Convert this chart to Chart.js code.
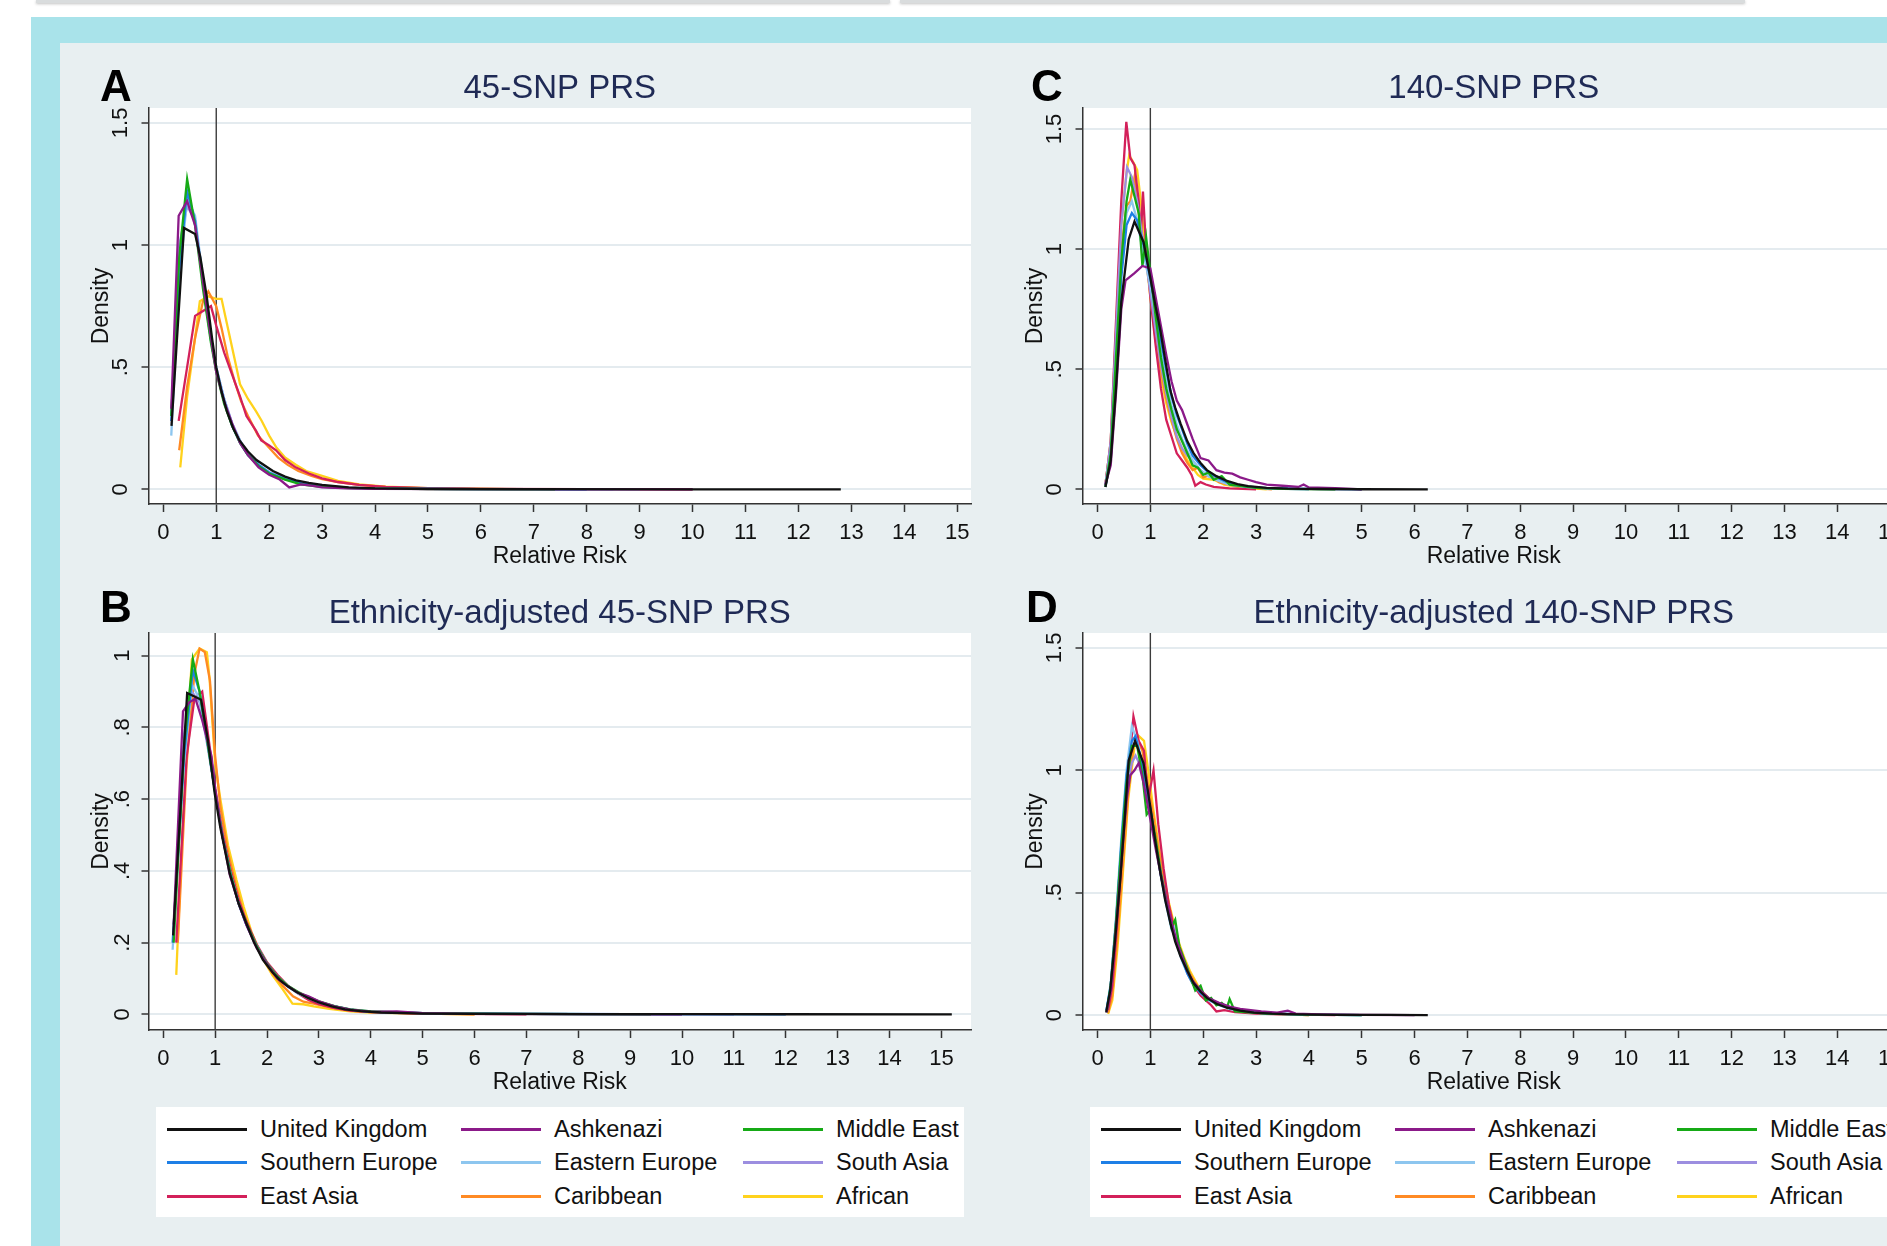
<!DOCTYPE html>
<html lang="en">
<head>
<meta charset="UTF-8">
<title>Relative risk density by ethnicity</title>
<script src="https://cdn.jsdelivr.net/npm/chart.js"></script>
<style>
  html, body { margin: 0; padding: 0; }
  body { width: 1887px; height: 1246px; overflow: hidden; position: relative; background: #fff;
         font-family: "Liberation Sans", Arial, sans-serif; }
  .tab { position: absolute; top: 0; height: 3px; background: #d9dcdd; box-shadow: 0 1px 3px rgba(0,0,0,0.25); }
  #frame { position: absolute; left: 31px; top: 17px; right: 0; bottom: 0; background: #a9e3ea; }
  #sheet { position: absolute; left: 60px; top: 43px; right: 0; bottom: 0; background: #e8eff1; }
  canvas { position: absolute; }
  .legend { position: absolute; width: 808px; height: 110px; background: #fff; }
  .legend .item { position: absolute; height: 30px; display: flex; align-items: center;
                  font-size: 23.5px; color: #111; white-space: nowrap; }
  .legend .swatch { width: 80px; height: 3px; margin-right: 13px; }
</style>
</head>
<body>
<div class="tab" style="left:36px; width:854px;"></div>
<div class="tab" style="left:900px; width:845px;"></div>
<div id="frame"></div>
<div id="sheet"></div>

<canvas id="cA" width="934" height="537" style="left:60px; top:43px;"></canvas>
<canvas id="cB" width="934" height="526" style="left:60px; top:580px;"></canvas>
<canvas id="cC" width="934" height="537" style="left:994px; top:43px;"></canvas>
<canvas id="cD" width="934" height="526" style="left:994px; top:580px;"></canvas>

<div class="legend" id="legL" style="left:156px; top:1107px;"></div>
<div class="legend" id="legR" style="left:1090px; top:1107px;"></div>

<script>
// ethnic groups, in legend order
const seriesNames = ['United Kingdom', 'Ashkenazi', 'Middle East',
                     'Southern Europe', 'Eastern Europe', 'South Asia',
                     'East Asia', 'Caribbean', 'African'];
const seriesColors = ['#111111', '#8b1a89', '#16aa16',
                      '#1e7fe6', '#8dc6ef', '#9c8ee0',
                      '#d3205a', '#ff8a24', '#ffd21c'];

const xTicks = [0, 1, 2, 3, 4, 5, 6, 7, 8, 9, 10, 11, 12, 13, 14, 15];
const yTicksHalf = [0, 0.5, 1, 1.5];
const yTicksFifth = [0, 0.2, 0.4, 0.6, 0.8, 1];

// density of relative risk, [RR, density] per group (same order as seriesNames)
const densA = [
  [[0.155,0.26],[0.39,1.07],[0.6,1.045],[0.7,0.95],[0.82,0.79],[0.92,0.62],[1.0,0.50],[1.1,0.40],[1.2,0.32],[1.32,0.25],[1.44,0.2],[1.6,0.155],[1.76,0.12],[2.07,0.075],[2.3,0.052],[2.51,0.037],[2.75,0.026],[3.0,0.018],[3.5,0.008],[4.0,0.004],[5,0.0015],[7,0.0005],[10,0.0002],[12.8,0]],
  [[0.15,0.33],[0.29,1.12],[0.45,1.18],[0.6,1.08],[0.75,0.85],[0.9,0.62],[1.0,0.48],[1.15,0.36],[1.3,0.27],[1.45,0.19],[1.6,0.14],[1.8,0.09],[2.0,0.06],[2.2,0.04],[2.38,0.008],[2.6,0.02],[2.8,0.015],[3.0,0.008],[3.5,0.004],[4,0.002],[6,0.0008],[10,0]],
  [[0.15,0.3],[0.3,0.95],[0.45,1.27],[0.6,1.08],[0.75,0.82],[0.9,0.6],[1.0,0.48],[1.15,0.35],[1.3,0.26],[1.45,0.19],[1.6,0.14],[1.8,0.095],[2.0,0.065],[2.3,0.04],[2.6,0.02],[2.9,0.012],[3.3,0.006],[4,0.003],[5.5,0.001],[7.4,0]],
  [[0.15,0.28],[0.3,0.9],[0.45,1.22],[0.6,1.1],[0.75,0.84],[0.9,0.61],[1.0,0.49],[1.15,0.36],[1.3,0.26],[1.45,0.19],[1.6,0.14],[1.8,0.1],[2.0,0.068],[2.3,0.042],[2.6,0.025],[3.0,0.012],[3.5,0.006],[4,0.003],[6,0.0008],[8,0]],
  [[0.15,0.22],[0.3,0.85],[0.45,1.19],[0.6,1.12],[0.75,0.86],[0.9,0.62],[1.0,0.5],[1.15,0.37],[1.3,0.27],[1.45,0.2],[1.6,0.145],[1.8,0.1],[2.0,0.07],[2.3,0.043],[2.6,0.026],[3.0,0.013],[3.5,0.006],[4,0.003],[6,0.0008],[9,0]],
  [[0.15,0.3],[0.3,1.0],[0.45,1.16],[0.6,1.1],[0.75,0.86],[0.9,0.62],[1.0,0.5],[1.15,0.37],[1.3,0.27],[1.45,0.2],[1.6,0.145],[1.8,0.1],[2.0,0.07],[2.3,0.044],[2.6,0.027],[3.0,0.014],[3.5,0.007],[4,0.003],[6,0.0008],[8.5,0]],
  [[0.29,0.28],[0.45,0.5],[0.6,0.71],[0.75,0.73],[0.9,0.75],[1.0,0.67],[1.15,0.56],[1.3,0.47],[1.45,0.38],[1.57,0.30],[1.75,0.24],[1.85,0.2],[2.0,0.18],[2.13,0.16],[2.3,0.12],[2.5,0.09],[2.75,0.065],[3.0,0.045],[3.3,0.03],[3.7,0.018],[4.2,0.01],[5,0.005],[6,0.002],[8,0.001],[10,0]],
  [[0.3,0.16],[0.45,0.42],[0.6,0.62],[0.75,0.77],[0.85,0.81],[1.0,0.75],[1.1,0.66],[1.22,0.54],[1.35,0.44],[1.47,0.36],[1.6,0.3],[1.79,0.22],[2.0,0.17],[2.17,0.13],[2.35,0.1],[2.55,0.075],[2.8,0.055],[3.0,0.042],[3.3,0.03],[3.7,0.018],[4.2,0.01],[5,0.004],[6,0.002],[7.5,0]],
  [[0.32,0.09],[0.45,0.38],[0.6,0.62],[0.69,0.77],[0.85,0.79],[1.0,0.78],[1.1,0.78],[1.2,0.68],[1.35,0.53],[1.45,0.43],[1.6,0.37],[1.75,0.32],[1.86,0.28],[2.0,0.22],[2.14,0.17],[2.3,0.13],[2.51,0.1],[2.7,0.075],[3.0,0.055],[3.3,0.035],[3.7,0.02],[4.2,0.011],[5,0.005],[6,0.002],[7,0]]
];

const densB = [
  [[0.19,0.22],[0.46,0.896],[0.73,0.877],[0.86,0.765],[0.99,0.617],[1.1,0.52],[1.28,0.393],[1.45,0.31],[1.6,0.254],[1.75,0.2],[1.92,0.152],[2.1,0.118],[2.24,0.096],[2.4,0.078],[2.56,0.063],[2.8,0.045],[3.0,0.033],[3.25,0.022],[3.5,0.014],[3.8,0.009],[4.2,0.005],[5,0.002],[6,0.001],[8,0.0004],[10,0.0002],[12,0.0001],[15.2,0]],
  [[0.2,0.25],[0.38,0.845],[0.5,0.87],[0.62,0.88],[0.75,0.82],[0.93,0.72],[1.0,0.63],[1.1,0.53],[1.28,0.39],[1.45,0.31],[1.6,0.25],[1.8,0.185],[2.0,0.14],[2.2,0.1],[2.4,0.078],[2.6,0.06],[2.8,0.05],[3.0,0.036],[3.3,0.022],[3.6,0.013],[4.0,0.007],[4.5,0.008],[5,0.003],[6,0.001],[8,0.0003],[10,0]],
  [[0.2,0.2],[0.4,0.75],[0.57,0.99],[0.7,0.9],[0.85,0.76],[1.0,0.62],[1.15,0.49],[1.3,0.39],[1.45,0.31],[1.6,0.255],[1.8,0.19],[2.0,0.142],[2.2,0.105],[2.4,0.08],[2.6,0.062],[2.8,0.048],[3.0,0.036],[3.3,0.023],[3.6,0.014],[4.0,0.008],[5,0.003],[6,0.0015],[7,0.001],[9.4,0]],
  [[0.18,0.2],[0.4,0.72],[0.57,0.96],[0.7,0.9],[0.85,0.76],[1.0,0.62],[1.15,0.49],[1.3,0.39],[1.45,0.31],[1.6,0.25],[1.8,0.19],[2.0,0.14],[2.2,0.104],[2.4,0.078],[2.6,0.06],[2.8,0.046],[3.0,0.034],[3.3,0.022],[3.6,0.013],[4,0.007],[5,0.003],[7,0.001],[9,0.0005],[12,0]],
  [[0.18,0.18],[0.4,0.7],[0.55,0.92],[0.7,0.88],[0.85,0.76],[1.0,0.62],[1.15,0.49],[1.3,0.39],[1.45,0.31],[1.6,0.25],[1.8,0.19],[2.0,0.14],[2.2,0.103],[2.4,0.077],[2.6,0.058],[2.8,0.045],[3.0,0.034],[3.3,0.022],[3.6,0.013],[4,0.007],[5,0.003],[7,0.001],[10,0]],
  [[0.2,0.22],[0.4,0.78],[0.55,0.9],[0.7,0.87],[0.85,0.75],[1.0,0.62],[1.15,0.49],[1.3,0.39],[1.45,0.31],[1.6,0.25],[1.8,0.19],[2.0,0.142],[2.2,0.105],[2.4,0.08],[2.6,0.06],[2.8,0.046],[3.0,0.035],[3.3,0.022],[3.6,0.014],[4,0.008],[5,0.003],[7,0.001],[11,0]],
  [[0.25,0.2],[0.45,0.72],[0.6,0.88],[0.75,0.9],[0.9,0.74],[1.0,0.63],[1.15,0.5],[1.3,0.4],[1.45,0.32],[1.6,0.26],[1.8,0.195],[2.0,0.145],[2.2,0.11],[2.4,0.08],[2.6,0.058],[2.8,0.04],[3.0,0.028],[3.3,0.017],[3.6,0.01],[4,0.006],[5,0.002],[7,0]],
  [[0.28,0.2],[0.45,0.7],[0.6,0.95],[0.7,1.02],[0.8,1.01],[0.9,0.93],[1.0,0.72],[1.1,0.58],[1.25,0.45],[1.4,0.36],[1.55,0.28],[1.7,0.22],[1.9,0.16],[2.1,0.115],[2.3,0.08],[2.5,0.05],[2.7,0.035],[2.9,0.03],[3.2,0.02],[3.6,0.01],[4,0.006],[5,0.002],[6,0]],
  [[0.25,0.11],[0.4,0.62],[0.55,0.99],[0.7,1.02],[0.84,1.01],[0.89,0.94],[1.0,0.7],[1.1,0.6],[1.25,0.47],[1.41,0.375],[1.55,0.3],[1.7,0.23],[1.9,0.16],[2.1,0.11],[2.3,0.07],[2.49,0.03],[2.7,0.028],[2.9,0.022],[3.2,0.015],[3.6,0.008],[4,0.005],[5,0.002],[6,0]]
];

const densC = [
  [[0.15,0.01],[0.25,0.12],[0.35,0.42],[0.45,0.78],[0.59,1.04],[0.7,1.115],[0.87,1.03],[1.0,0.88],[1.1,0.76],[1.19,0.66],[1.28,0.54],[1.38,0.41],[1.47,0.34],[1.57,0.275],[1.7,0.2],[1.82,0.15],[1.95,0.11],[2.07,0.08],[2.25,0.055],[2.45,0.035],[2.65,0.022],[2.85,0.013],[3.2,0.006],[3.6,0.003],[4.2,0.0015],[5,0.0005],[6.25,0]],
  [[0.15,0.02],[0.25,0.1],[0.35,0.4],[0.45,0.75],[0.53,0.87],[0.7,0.9],[0.85,0.93],[1.0,0.92],[1.1,0.8],[1.2,0.68],[1.3,0.56],[1.4,0.45],[1.5,0.37],[1.6,0.33],[1.7,0.27],[1.8,0.21],[1.95,0.13],[2.1,0.12],[2.25,0.08],[2.4,0.07],[2.55,0.065],[2.7,0.05],[2.85,0.04],[3.0,0.03],[3.2,0.02],[3.5,0.015],[3.8,0.01],[3.9,0.02],[4.0,0.008],[4.5,0.005],[5.0,0]],
  [[0.15,0.01],[0.25,0.15],[0.35,0.55],[0.45,0.95],[0.55,1.2],[0.62,1.29],[0.7,1.22],[0.78,1.15],[0.85,0.93],[0.92,1.05],[1.0,0.9],[1.1,0.72],[1.2,0.55],[1.3,0.42],[1.4,0.33],[1.5,0.25],[1.6,0.2],[1.7,0.15],[1.8,0.1],[1.9,0.09],[2.0,0.06],[2.1,0.07],[2.2,0.04],[2.35,0.055],[2.5,0.02],[2.7,0.015],[3.0,0.006],[3.5,0.002],[4.5,0]],
  [[0.15,0.01],[0.25,0.13],[0.35,0.5],[0.45,0.88],[0.55,1.1],[0.65,1.15],[0.75,1.12],[0.87,1.02],[1.0,0.88],[1.1,0.75],[1.2,0.62],[1.3,0.5],[1.4,0.39],[1.5,0.31],[1.6,0.25],[1.7,0.19],[1.8,0.14],[1.95,0.1],[2.1,0.07],[2.3,0.045],[2.5,0.025],[2.8,0.012],[3.2,0.005],[4,0.002],[5,0]],
  [[0.15,0.02],[0.25,0.15],[0.35,0.55],[0.45,0.95],[0.55,1.15],[0.65,1.2],[0.75,1.12],[0.85,1.0],[1.0,0.85],[1.1,0.72],[1.2,0.58],[1.3,0.45],[1.4,0.35],[1.5,0.27],[1.6,0.21],[1.7,0.16],[1.8,0.12],[1.95,0.08],[2.1,0.055],[2.3,0.035],[2.5,0.02],[2.8,0.01],[3.2,0.004],[4,0]],
  [[0.15,0.02],[0.25,0.2],[0.35,0.65],[0.45,1.1],[0.56,1.34],[0.65,1.3],[0.75,1.2],[0.85,1.05],[1.0,0.82],[1.1,0.66],[1.2,0.52],[1.3,0.4],[1.4,0.3],[1.5,0.22],[1.6,0.17],[1.7,0.14],[1.8,0.12],[1.95,0.08],[2.1,0.055],[2.3,0.035],[2.5,0.02],[2.8,0.01],[3.2,0.004],[4,0]],
  [[0.15,0.02],[0.25,0.2],[0.35,0.7],[0.45,1.2],[0.545,1.53],[0.62,1.38],[0.7,1.35],[0.78,1.2],[0.82,1.05],[0.86,1.24],[0.92,1.0],[1.0,0.8],[1.1,0.6],[1.2,0.42],[1.3,0.29],[1.4,0.22],[1.5,0.15],[1.6,0.12],[1.7,0.09],[1.78,0.06],[1.85,0.015],[1.95,0.03],[2.05,0.02],[2.2,0.01],[2.5,0.004],[3,0]],
  [[0.15,0.02],[0.25,0.18],[0.35,0.6],[0.45,1.0],[0.55,1.18],[0.62,1.2],[0.7,1.3],[0.78,1.15],[0.85,1.05],[0.92,0.98],[1.0,0.85],[1.1,0.68],[1.2,0.5],[1.3,0.38],[1.4,0.29],[1.5,0.21],[1.6,0.15],[1.7,0.11],[1.8,0.08],[1.9,0.09],[2.0,0.05],[2.15,0.06],[2.3,0.03],[2.5,0.02],[2.8,0.008],[3.3,0]],
  [[0.15,0.02],[0.25,0.2],[0.35,0.65],[0.45,1.1],[0.55,1.32],[0.6,1.39],[0.68,1.36],[0.75,1.33],[0.82,1.2],[0.9,1.0],[1.0,0.8],[1.1,0.62],[1.2,0.47],[1.3,0.36],[1.4,0.28],[1.5,0.22],[1.6,0.17],[1.7,0.12],[1.8,0.09],[1.9,0.06],[2.0,0.045],[2.2,0.04],[2.4,0.02],[2.7,0.008],[3.2,0]]
];

const densD = [
  [[0.165,0.013],[0.24,0.1],[0.33,0.3],[0.43,0.55],[0.52,0.82],[0.59,1.04],[0.71,1.12],[0.87,1.03],[1.0,0.85],[1.1,0.7],[1.19,0.58],[1.28,0.47],[1.38,0.375],[1.47,0.3],[1.57,0.24],[1.7,0.18],[1.82,0.13],[1.95,0.095],[2.07,0.07],[2.25,0.046],[2.45,0.03],[2.7,0.018],[2.96,0.01],[3.3,0.006],[3.8,0.003],[4.5,0.0012],[5.5,0.0004],[6.25,0]],
  [[0.17,0.01],[0.25,0.1],[0.35,0.35],[0.45,0.62],[0.55,0.88],[0.62,0.98],[0.7,1.0],[0.78,1.03],[0.87,0.95],[1.0,0.8],[1.1,0.68],[1.2,0.57],[1.3,0.47],[1.4,0.38],[1.5,0.3],[1.6,0.24],[1.7,0.18],[1.8,0.14],[1.95,0.1],[2.1,0.07],[2.3,0.05],[2.5,0.035],[2.7,0.025],[2.9,0.02],[3.1,0.015],[3.4,0.01],[3.6,0.018],[3.75,0.006],[4.2,0.003],[5,0.001],[6,0]],
  [[0.17,0.01],[0.25,0.12],[0.35,0.38],[0.45,0.68],[0.55,0.95],[0.65,1.1],[0.75,1.1],[0.85,0.98],[0.93,0.82],[1.0,0.84],[1.1,0.72],[1.2,0.58],[1.3,0.47],[1.4,0.36],[1.47,0.39],[1.55,0.28],[1.65,0.22],[1.75,0.16],[1.85,0.1],[1.95,0.12],[2.05,0.06],[2.15,0.07],[2.25,0.04],[2.35,0.05],[2.45,0.03],[2.5,0.065],[2.6,0.015],[2.8,0.012],[3.2,0.006],[4,0.002],[5,0]],
  [[0.17,0.02],[0.25,0.12],[0.35,0.38],[0.45,0.7],[0.55,0.98],[0.65,1.12],[0.72,1.14],[0.85,1.02],[1.0,0.84],[1.1,0.7],[1.2,0.57],[1.3,0.46],[1.4,0.36],[1.5,0.29],[1.6,0.23],[1.7,0.17],[1.8,0.13],[1.95,0.09],[2.1,0.065],[2.3,0.042],[2.5,0.028],[2.8,0.015],[3.2,0.007],[4,0.002],[5,0]],
  [[0.17,0.02],[0.25,0.13],[0.35,0.4],[0.45,0.72],[0.55,1.0],[0.65,1.18],[0.75,1.12],[0.85,1.02],[1.0,0.84],[1.1,0.7],[1.2,0.57],[1.3,0.45],[1.4,0.35],[1.45,0.36],[1.5,0.29],[1.6,0.22],[1.7,0.17],[1.8,0.13],[1.95,0.09],[2.1,0.06],[2.3,0.04],[2.5,0.025],[2.8,0.013],[3.2,0.006],[4,0]],
  [[0.17,0.02],[0.25,0.12],[0.35,0.37],[0.45,0.68],[0.55,0.93],[0.65,1.03],[0.72,1.06],[0.85,1.0],[1.0,0.84],[1.1,0.71],[1.2,0.58],[1.3,0.47],[1.4,0.37],[1.5,0.3],[1.6,0.23],[1.7,0.18],[1.8,0.135],[1.95,0.095],[2.1,0.068],[2.3,0.045],[2.5,0.03],[2.8,0.016],[3.2,0.008],[4,0.002],[5,0]],
  [[0.2,0.02],[0.28,0.12],[0.38,0.4],[0.48,0.72],[0.57,0.95],[0.68,1.22],[0.78,1.12],[0.88,1.08],[0.96,0.88],[1.06,1.0],[1.15,0.78],[1.25,0.6],[1.35,0.45],[1.45,0.35],[1.55,0.27],[1.65,0.2],[1.75,0.15],[1.85,0.11],[1.95,0.08],[2.05,0.06],[2.15,0.04],[2.25,0.015],[2.4,0.02],[2.6,0.012],[3.0,0.006],[3.5,0.003],[4.5,0]],
  [[0.2,0.01],[0.28,0.08],[0.38,0.32],[0.48,0.62],[0.58,0.9],[0.68,1.1],[0.75,1.13],[0.85,1.08],[0.95,0.95],[1.05,0.82],[1.15,0.68],[1.25,0.56],[1.35,0.45],[1.45,0.36],[1.55,0.28],[1.65,0.22],[1.75,0.17],[1.85,0.13],[1.95,0.1],[2.1,0.07],[2.3,0.045],[2.5,0.03],[2.8,0.015],[3.2,0.006],[4,0]],
  [[0.2,0.005],[0.28,0.06],[0.38,0.28],[0.48,0.58],[0.58,0.88],[0.7,1.1],[0.78,1.14],[0.88,1.12],[0.96,1.0],[1.05,0.85],[1.15,0.7],[1.25,0.57],[1.35,0.46],[1.45,0.37],[1.55,0.29],[1.65,0.23],[1.75,0.18],[1.85,0.14],[1.95,0.1],[2.1,0.07],[2.3,0.045],[2.5,0.028],[2.8,0.014],[3.2,0.006],[4,0]]
];

const FONT = '"Liberation Sans", Arial, sans-serif';

// white plot region, panel letter and title, and the reference line at RR = 1
const panelDecor = {
  id: 'panelDecor',
  beforeDraw(chart, args, opts) {
    const {ctx, chartArea: a} = chart;
    ctx.save();
    ctx.fillStyle = '#ffffff';
    ctx.fillRect(a.left, a.top, a.right - a.left, a.bottom - a.top);
    ctx.textBaseline = 'alphabetic';
    ctx.fillStyle = '#1f2a55';
    ctx.textAlign = 'center';
    ctx.font = '33px ' + FONT;
    ctx.fillText(opts.title, (a.left + a.right) / 2, a.top - 10);
    ctx.fillStyle = '#000';
    ctx.textAlign = 'left';
    ctx.font = 'bold 44px ' + FONT;
    ctx.fillText(opts.letter, opts.letterX, a.top - opts.letterDy);
    ctx.restore();
  },
  beforeDatasetsDraw(chart) {
    const {ctx, chartArea: a, scales: {x}} = chart;
    const px = x.getPixelForValue(1);
    ctx.save();
    ctx.strokeStyle = '#3c3c3c';
    ctx.lineWidth = 1.4;
    ctx.beginPath();
    ctx.moveTo(px, a.top);
    ctx.lineTo(px, a.bottom);
    ctx.stroke();
    ctx.restore();
  }
};

function stataNum(v) {
  if (v === 0) return '0';
  return String(v).replace(/^0\./, '.');
}

function makePanel(p) {
  const datasets = p.series.map((pts, i) => ({
    label: seriesNames[i],
    data: pts.map(([x, y]) => ({x, y})),
    borderColor: seriesColors[i],
    borderWidth: 2.3,
    pointRadius: 0,
    tension: 0,
    fill: false
  }));

  new Chart(document.getElementById(p.id), {
    type: 'line',
    data: {datasets},
    plugins: [panelDecor],
    options: {
      responsive: false,
      animation: false,
      events: [],
      layout: {padding: {top: p.padTop, right: 23, left: 0, bottom: 0}},
      plugins: {
        legend: {display: false},
        tooltip: {enabled: false},
        panelDecor: {title: p.title, letter: p.letter, letterX: p.letterX, letterDy: p.letterDy}
      },
      scales: {
        x: {
          type: 'linear',
          min: p.xMin,
          max: p.xMax,
          afterBuildTicks: s => { s.ticks = xTicks.map(v => ({value: v})); },
          afterFit: s => { s.height = 76; },
          grid: {drawOnChartArea: false, drawTicks: true, tickLength: 8, tickColor: '#333', tickWidth: 1.5},
          border: {display: true, color: '#333', width: 1.5},
          ticks: {autoSkip: false, maxRotation: 0, padding: 8, color: '#111', font: {family: FONT, size: 22}},
          title: {display: true, text: 'Relative Risk', color: '#111', font: {family: FONT, size: 23},
                  padding: {top: 0, bottom: 10}}
        },
        y: {
          type: 'linear',
          min: p.yMin,
          max: p.yMax,
          afterBuildTicks: s => { s.ticks = p.yTicks.map(v => ({value: v})); },
          afterFit: s => { s.width = 88.5; },
          grid: {color: '#e4ebef', lineWidth: 2, drawTicks: true, tickLength: 7, tickColor: '#333', tickWidth: 1.5},
          border: {display: true, color: '#333', width: 1.5},
          ticks: {minRotation: 90, maxRotation: 90, crossAlign: 'center', padding: p.yPad, color: '#111',
                  font: {family: FONT, size: 22}, callback: v => stataNum(v)},
          title: {display: true, text: 'Density', color: '#111', font: {family: FONT, size: 23},
                  padding: {top: 28, bottom: 0}}
        }
      }
    }
  });
}

const panels = [
  {id: 'cA', letter: 'A', letterX: 40, letterDy: 7, title: '45-SNP PRS', series: densA, padTop: 65,
   xMin: -0.28, xMax: 15.26, yMin: -0.060, yMax: 1.561, yTicks: yTicksHalf, yPad: 5},
  {id: 'cB', letter: 'B', letterX: 40, letterDy: 11, title: 'Ethnicity-adjusted 45-SNP PRS', series: densB, padTop: 53,
   xMin: -0.285, xMax: 15.57, yMin: -0.0438, yMax: 1.0634, yTicks: yTicksFifth, yPad: 9},
  {id: 'cC', letter: 'C', letterX: 37, letterDy: 7, title: '140-SNP PRS', series: densC, padTop: 65,
   xMin: -0.284, xMax: 15.28, yMin: -0.061, yMax: 1.5875, yTicks: yTicksHalf, yPad: 5},
  {id: 'cD', letter: 'D', letterX: 32, letterDy: 11, title: 'Ethnicity-adjusted 140-SNP PRS', series: densD, padTop: 53,
   xMin: -0.284, xMax: 15.28, yMin: -0.061, yMax: 1.561, yTicks: yTicksHalf, yPad: 5}
];
panels.forEach(makePanel);

// three-column legend box under each column of panels
function buildLegend(el) {
  const colX = [11, 305, 587];
  const rowY = [22, 55, 89];
  seriesNames.forEach((name, i) => {
    const item = document.createElement('div');
    item.className = 'item';
    item.style.left = colX[i % 3] + 'px';
    item.style.top = (rowY[Math.floor(i / 3)] - 15) + 'px';
    const sw = document.createElement('span');
    sw.className = 'swatch';
    sw.style.background = seriesColors[i];
    item.appendChild(sw);
    item.appendChild(document.createTextNode(name));
    el.appendChild(item);
  });
}
buildLegend(document.getElementById('legL'));
buildLegend(document.getElementById('legR'));
</script>
</body>
</html>
